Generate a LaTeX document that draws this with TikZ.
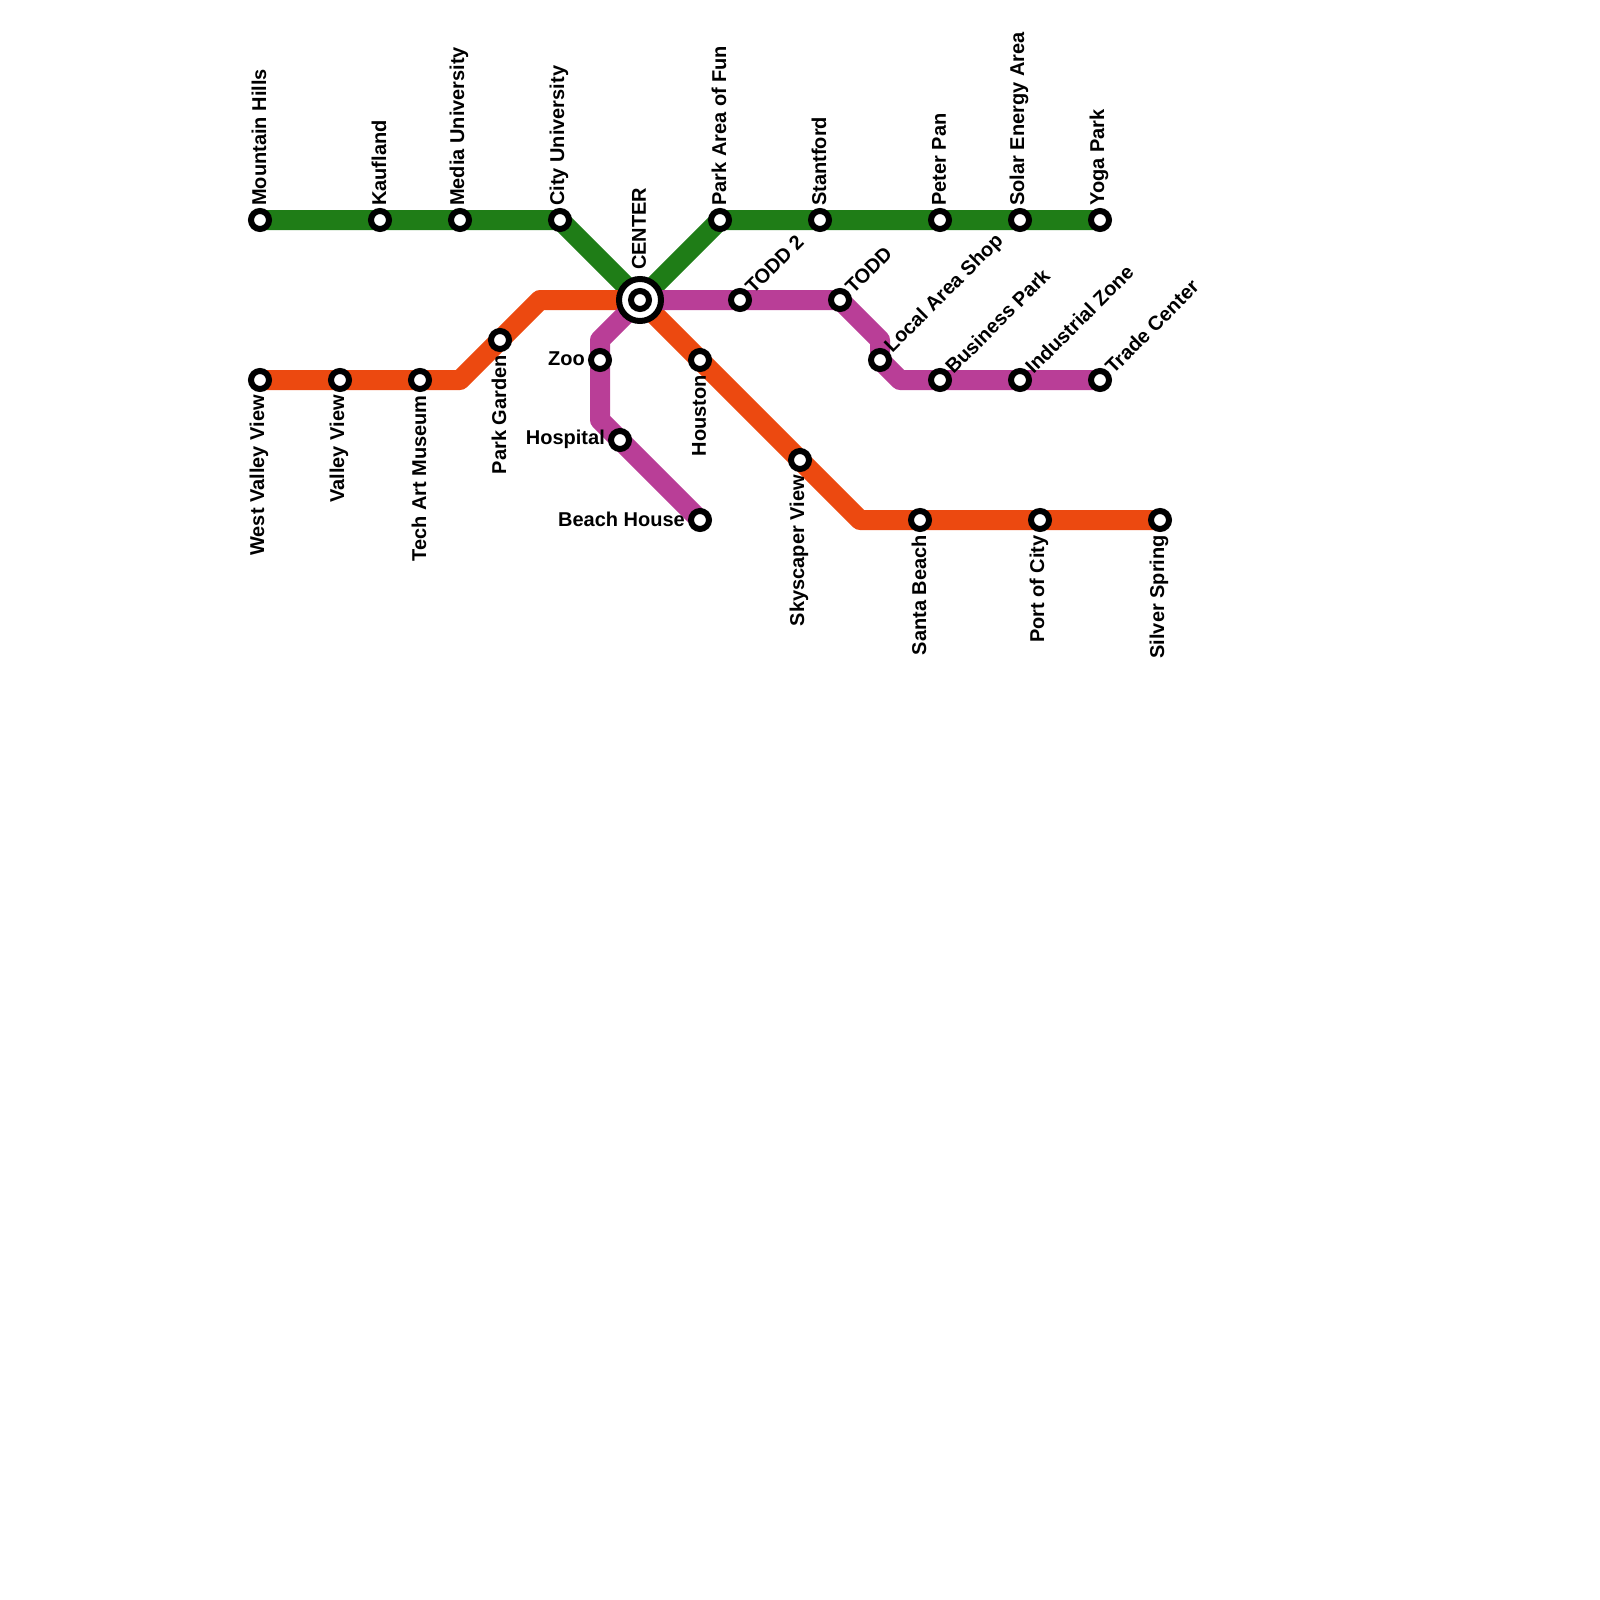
\documentclass[tikz,border=0pt]{standalone}
\usepackage{fontspec}
\setmainfont{Liberation Sans}
\usetikzlibrary{backgrounds}
\definecolor{lgreen}{HTML}{1F7D17}
\definecolor{lorange}{HTML}{EC4910}
\definecolor{lpurple}{HTML}{B93E97}
\tikzset{
  x=1pt,y=-1pt,
  stn/.style={circle,draw=black,fill=white,line width=6pt,minimum size=18pt,inner sep=0pt,outer sep=0pt},
  hubo/.style={circle,draw=black,fill=white,line width=6pt,minimum size=42pt,inner sep=0pt,outer sep=0pt},
  route/.style={line width=20pt,line join=round,line cap=butt},
  lbl/.style={font=\fontsize{20}{20}\selectfont\bfseries,inner sep=0pt,text=black},
  up/.style={lbl,rotate=90,anchor=west},
  dn/.style={lbl,rotate=90,anchor=east},
  dg/.style={lbl,rotate=45,anchor=west},
  lf/.style={lbl,anchor=east},
}
\begin{document}
\begin{tikzpicture}
\useasboundingbox (0,0) rectangle (1600,1600);
% green
\node[stn] (mh) at (260,220) {};
\node[stn] (kf) at (380,220) {};
\node[stn] (mu) at (460,220) {};
\node[stn] (cu) at (560,220) {};
\node[hubo] (ctr) at (640,300) {};
\node[stn] (ctri) at (640,300) {};
\node[stn] (pa) at (720,220) {};
\node[stn] (sf) at (820,220) {};
\node[stn] (pp) at (940,220) {};
\node[stn] (se) at (1020,220) {};
\node[stn] (yp) at (1100,220) {};
% orange
\node[stn] (wv) at (260,380) {};
\node[stn] (vv) at (340,380) {};
\node[stn] (ta) at (420,380) {};
\coordinate (ob1) at (460,380);
\node[stn] (pg) at (500,340) {};
\coordinate (ob2) at (540,300);
\node[stn] (ho) at (700,360) {};
\node[stn] (sk) at (800,460) {};
\coordinate (ob3) at (860,520);
\node[stn] (sb) at (920,520) {};
\node[stn] (pc) at (1040,520) {};
\node[stn] (ss) at (1160,520) {};
% purple
\node[stn] (t2) at (740,300) {};
\node[stn] (td) at (840,300) {};
\coordinate (pb1) at (880,340);
\node[stn] (la) at (880,360) {};
\coordinate (pb2) at (900,380);
\node[stn] (bp) at (940,380) {};
\node[stn] (iz) at (1020,380) {};
\node[stn] (tc) at (1100,380) {};
\coordinate (pb3) at (600,340);
\node[stn] (zo) at (600,360) {};
\coordinate (pb4) at (600,420);
\node[stn] (hs) at (620,440) {};
\node[stn] (bh) at (700,520) {};
\begin{scope}[on background layer]
\draw[route,lgreen] (mh.center) -- (kf.center) -- (mu.center) -- (cu.center) -- (ctr.center) -- (pa.center) -- (sf.center) -- (pp.center) -- (se.center) -- (yp.center);
\draw[route,lorange] (wv.center) -- (vv.center) -- (ta.center) -- (ob1) -- (pg.center) -- (ob2) -- (ctr.center) -- (ho.center) -- (sk.center) -- (ob3) -- (sb.center) -- (pc.center) -- (ss.center);
\draw[route,lpurple] (tc.center) -- (iz.center) -- (bp.center) -- (pb2) -- (la.center) -- (pb1) -- (td.center) -- (t2.center) -- (ctr.center) -- (pb3) -- (zo.center) -- (pb4) -- (hs.center) -- (bh.center);
\end{scope}
% labels
\node[up] (lmh) at ([shift={(-1pt,14pt)}]mh.center) {Mountain Hills};
\node[up] (lkf) at ([shift={(-1pt,14pt)}]kf.center) {Kaufland};
\node[up] (lmu) at ([shift={(-1pt,14pt)}]mu.center) {Media University};
\node[up] (lcu) at ([shift={(-1pt,14pt)}]cu.center) {City University};
\node[up] (lctr) at ([shift={(-1pt,30pt)}]ctr.center) {CENTER};
\node[up] (lpa) at ([shift={(-1pt,14pt)}]pa.center) {Park Area of Fun};
\node[up] (lsf) at ([shift={(-1pt,14pt)}]sf.center) {Stantford};
\node[up] (lpp) at ([shift={(-1pt,14pt)}]pp.center) {Peter Pan};
\node[up] (lse) at ([shift={(-1pt,14pt)}]se.center) {Solar Energy Area};
\node[up] (lyp) at ([shift={(-1pt,14pt)}]yp.center) {Yoga Park};
\node[dn] (lwv) at ([shift={(-1pt,-15pt)}]wv.center) {West Valley View};
\node[dn] (lvv) at ([shift={(-1pt,-15pt)}]vv.center) {Valley View};
\node[dn] (lta) at ([shift={(-1pt,-15pt)}]ta.center) {Tech Art Museum};
\node[dn] (lpg) at ([shift={(-1pt,-15pt)}]pg.center) {Park Garden};
\node[dn] (lho) at ([shift={(-1pt,-15pt)}]ho.center) {Houston};
\node[dn] (lsk) at ([shift={(-1pt,-15pt)}]sk.center) {Skyscaper View};
\node[dn] (lsb) at ([shift={(-1pt,-15pt)}]sb.center) {Santa Beach};
\node[dn] (lpc) at ([shift={(-1pt,-15pt)}]pc.center) {Port of City};
\node[dn] (lss) at ([shift={(-1pt,-15pt)}]ss.center) {Silver Spring};
\node[dg] (lt2) at ([shift={(8.5pt,10pt)}]t2.center) {TODD 2};
\node[dg] (ltd) at ([shift={(8.5pt,10pt)}]td.center) {TODD};
\node[dg] (lla) at ([shift={(8.5pt,10pt)}]la.center) {Local Area Shop};
\node[dg] (lbp) at ([shift={(8.5pt,10pt)}]bp.center) {Business Park};
\node[dg] (liz) at ([shift={(8.5pt,10pt)}]iz.center) {Industrial Zone};
\node[dg] (ltc) at ([shift={(8.5pt,10pt)}]tc.center) {Trade Center};
\node[lf] (lzo) at ([xshift=-15pt,yshift=1pt]zo.center) {Zoo};
\node[lf] (lhs) at ([xshift=-15pt,yshift=1pt]hs.center) {Hospital};
\node[lf] (lbh) at ([xshift=-15pt,yshift=1pt]bh.center) {Beach House};
\end{tikzpicture}
\end{document}
